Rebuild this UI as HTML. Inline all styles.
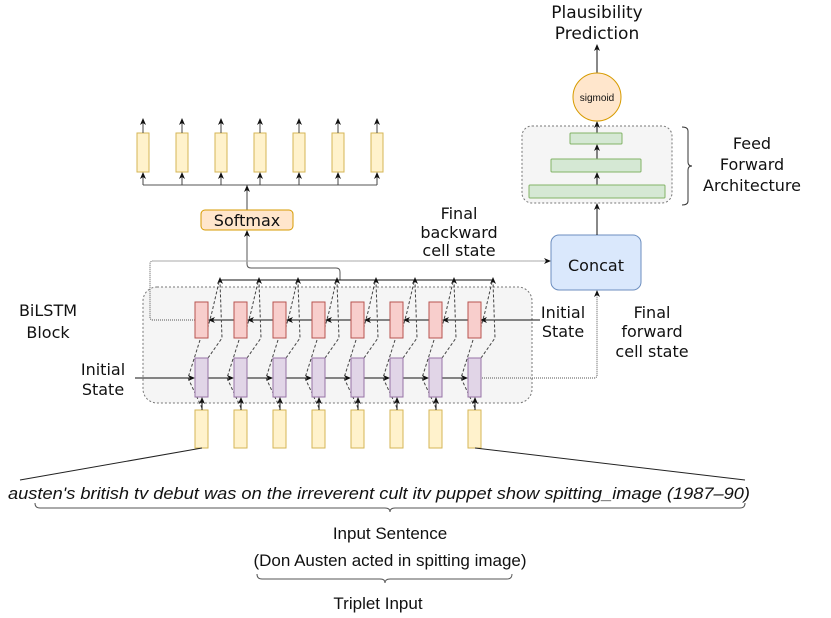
<!DOCTYPE html>
<html><head><meta charset="utf-8"><style>
html,body{margin:0;padding:0;background:#fff;}
svg{display:block;}
.t{font-family:"DejaVu Sans",sans-serif;font-size:16px;fill:#111;}
.h{font-family:"Liberation Sans",sans-serif;font-size:17px;fill:#111;}
</style></head><body>
<svg width="831" height="618" viewBox="0 0 831 618" xmlns="http://www.w3.org/2000/svg">
<defs>
<marker id="a" markerWidth="8" markerHeight="8" refX="6" refY="3" orient="auto" markerUnits="userSpaceOnUse"><path d="M0,0 L7,3 L0,6 L2,3 z" fill="#111"/></marker>
</defs>
<rect x="143" y="287" width="389" height="116" rx="14" fill="#f5f5f5" stroke="#777" stroke-dasharray="2,2"/>
<rect x="522" y="126" width="150" height="77" rx="10" fill="#f5f5f5" stroke="#777" stroke-dasharray="2,2"/>

<g stroke="#555" fill="none"><path d="M143,185 H377 M247,185 V210"/></g>
<g fill="#fff2cc" stroke="#d6b656">
<rect x="137" y="133" width="12" height="39"/><rect x="176" y="133" width="12" height="39"/><rect x="215" y="133" width="12" height="39"/><rect x="254" y="133" width="12" height="39"/><rect x="293" y="133" width="12" height="39"/><rect x="332" y="133" width="12" height="39"/><rect x="371" y="133" width="12" height="39"/>
</g>
<g stroke="#444" marker-end="url(#a)">
<line x1="143" y1="185" x2="143" y2="173"/><line x1="182" y1="185" x2="182" y2="173"/><line x1="221" y1="185" x2="221" y2="173"/><line x1="260" y1="185" x2="260" y2="173"/><line x1="299" y1="185" x2="299" y2="173"/><line x1="338" y1="185" x2="338" y2="173"/><line x1="377" y1="185" x2="377" y2="173"/>
<line x1="143" y1="133" x2="143" y2="119"/><line x1="182" y1="133" x2="182" y2="119"/><line x1="221" y1="133" x2="221" y2="119"/><line x1="260" y1="133" x2="260" y2="119"/><line x1="299" y1="133" x2="299" y2="119"/><line x1="338" y1="133" x2="338" y2="119"/><line x1="377" y1="133" x2="377" y2="119"/>
<line x1="247" y1="210" x2="247" y2="186"/>
</g>
<rect x="201" y="210" width="92" height="20" rx="4" fill="#ffe6cc" stroke="#d79b00"/>
<text x="247" y="226" text-anchor="middle" class="t" style="font-size:16px">Softmax</text>
<path d="M340,280 V272 Q340,268 336,268 H251 Q247,268 247,264 V231" fill="none" stroke="#555" marker-end="url(#a)"/>

<path d="M220,280 H493" stroke="#111" fill="none"/>
<g stroke="#111" marker-end="url(#a)">
<line x1="220" y1="281" x2="220" y2="278"/><line x1="259" y1="281" x2="259" y2="278"/><line x1="298" y1="281" x2="298" y2="278"/><line x1="337" y1="281" x2="337" y2="278"/><line x1="376" y1="281" x2="376" y2="278"/><line x1="415" y1="281" x2="415" y2="278"/><line x1="454" y1="281" x2="454" y2="278"/><line x1="493" y1="281" x2="493" y2="278"/>
</g>

<path d="M195,320 H153 Q150,320 150,317 V264 Q150,261 153,261 H550" fill="none" stroke="#555" stroke-dasharray="1,1" marker-end="url(#a)"/>
<path d="M480,378 H594 Q597,378 597,375 V291" fill="none" stroke="#555" stroke-dasharray="1,1" marker-end="url(#a)"/>

<g stroke="#111" fill="none">
<line x1="540" y1="320" x2="481" y2="320" marker-end="url(#a)"/>
<line x1="135" y1="378" x2="194" y2="378" marker-end="url(#a)"/>
</g>
<g stroke="#111" marker-end="url(#a)">
<line x1="234" y1="320" x2="209" y2="320"/><line x1="273" y1="320" x2="248" y2="320"/><line x1="312" y1="320" x2="287" y2="320"/><line x1="351" y1="320" x2="326" y2="320"/><line x1="390" y1="320" x2="365" y2="320"/><line x1="429" y1="320" x2="404" y2="320"/><line x1="468" y1="320" x2="443" y2="320"/>
<line x1="208" y1="378" x2="233" y2="378"/><line x1="247" y1="378" x2="272" y2="378"/><line x1="286" y1="378" x2="311" y2="378"/><line x1="325" y1="378" x2="350" y2="378"/><line x1="364" y1="378" x2="389" y2="378"/><line x1="403" y1="378" x2="428" y2="378"/><line x1="442" y1="378" x2="467" y2="378"/>
</g>
<g fill="none" stroke="#444" stroke-dasharray="3,2">
<path d="M202,408 L188,378 L200,340"/><path d="M208,358 L222,338 L220,282"/><path d="M205,338 L212,312 L219,282"/>
<path d="M241,408 L227,378 L239,340"/><path d="M247,358 L261,338 L259,282"/><path d="M244,338 L251,312 L258,282"/>
<path d="M280,408 L266,378 L278,340"/><path d="M286,358 L300,338 L298,282"/><path d="M283,338 L290,312 L297,282"/>
<path d="M319,408 L305,378 L317,340"/><path d="M325,358 L339,338 L337,282"/><path d="M322,338 L329,312 L336,282"/>
<path d="M358,408 L344,378 L356,340"/><path d="M364,358 L378,338 L376,282"/><path d="M361,338 L368,312 L375,282"/>
<path d="M397,408 L383,378 L395,340"/><path d="M403,358 L417,338 L415,282"/><path d="M400,338 L407,312 L414,282"/>
<path d="M436,408 L422,378 L434,340"/><path d="M442,358 L456,338 L454,282"/><path d="M439,338 L446,312 L453,282"/>
<path d="M475,408 L461,378 L473,340"/><path d="M481,358 L495,338 L493,282"/><path d="M478,338 L485,312 L492,282"/>
</g>
<g fill="#f8cecc" stroke="#b85450">
<rect x="195" y="302" width="13" height="36"/><rect x="234" y="302" width="13" height="36"/><rect x="273" y="302" width="13" height="36"/><rect x="312" y="302" width="13" height="36"/><rect x="351" y="302" width="13" height="36"/><rect x="390" y="302" width="13" height="36"/><rect x="429" y="302" width="13" height="36"/><rect x="468" y="302" width="13" height="36"/>
</g>
<g fill="#e1d5e7" stroke="#9673a6">
<rect x="195" y="358" width="13" height="39"/><rect x="234" y="358" width="13" height="39"/><rect x="273" y="358" width="13" height="39"/><rect x="312" y="358" width="13" height="39"/><rect x="351" y="358" width="13" height="39"/><rect x="390" y="358" width="13" height="39"/><rect x="429" y="358" width="13" height="39"/><rect x="468" y="358" width="13" height="39"/>
</g>
<g fill="#fff2cc" stroke="#d6b656">
<rect x="195" y="410" width="13" height="38"/><rect x="234" y="410" width="13" height="38"/><rect x="273" y="410" width="13" height="38"/><rect x="312" y="410" width="13" height="38"/><rect x="351" y="410" width="13" height="38"/><rect x="390" y="410" width="13" height="38"/><rect x="429" y="410" width="13" height="38"/><rect x="468" y="410" width="13" height="38"/>
</g>
<g stroke="#111" marker-end="url(#a)">
<line x1="202" y1="410" x2="202" y2="398"/><line x1="241" y1="410" x2="241" y2="398"/><line x1="280" y1="410" x2="280" y2="398"/><line x1="319" y1="410" x2="319" y2="398"/><line x1="358" y1="410" x2="358" y2="398"/><line x1="397" y1="410" x2="397" y2="398"/><line x1="436" y1="410" x2="436" y2="398"/><line x1="475" y1="410" x2="475" y2="398"/>
</g>

<rect x="551" y="235" width="90" height="55" rx="8" fill="#dae8fc" stroke="#6c8ebf"/>
<text x="596" y="271" text-anchor="middle" class="t" style="font-size:16px">Concat</text>
<g stroke="#111" marker-end="url(#a)">
<line x1="597" y1="235" x2="597" y2="204"/>
<line x1="597" y1="185" x2="597" y2="173"/>
<line x1="597" y1="159" x2="597" y2="145"/>
<line x1="597" y1="133" x2="597" y2="122"/>
<line x1="597" y1="73" x2="597" y2="45"/>
</g>
<g fill="#d5e8d4" stroke="#82b366">
<rect x="570" y="133" width="52" height="11" rx="1"/>
<rect x="551" y="159" width="90" height="13" rx="1"/>
<rect x="529" y="185" width="136" height="13" rx="1"/>
</g>
<circle cx="597" cy="97" r="24" fill="#ffe6cc" stroke="#d79b00"/>
<text x="597" y="101" text-anchor="middle" class="h" style="font-size:10px">sigmoid</text>
<path d="M682,127 Q688,127 688,131 V162 Q688,166 692,166 Q688,166 688,170 V201 Q688,205 682,205" fill="none" stroke="#333"/>

<g stroke="#222" fill="none">
<line x1="20" y1="480" x2="202" y2="448"/>
<line x1="475" y1="448" x2="745" y2="480"/>
<path d="M35,503 Q35,508 40,508 H385 Q390,508 390,512 Q390,508 395,508 H740 Q745,508 745,503" stroke="#555"/>
<path d="M257,574 Q257,579 262,579 H380 Q385,579 385,583 Q385,579 390,579 H507 Q512,579 512,574" stroke="#555"/>
</g>

<g class="t" text-anchor="middle">
<text x="597" y="18" style="font-size:17px">Plausibility</text><text x="597" y="39" style="font-size:17px">Prediction</text>
<text x="752" y="149">Feed</text><text x="752" y="170">Forward</text><text x="752" y="191">Architecture</text>
<text x="459" y="219">Final</text><text x="459" y="238">backward</text><text x="459" y="256">cell state</text>
<text x="652" y="318">Final</text><text x="652" y="337">forward</text><text x="652" y="357">cell state</text>
<text x="563" y="318">Initial</text><text x="563" y="337">State</text>
<text x="48" y="316">BiLSTM</text><text x="48" y="338">Block</text>
<text x="103" y="375">Initial</text><text x="103" y="395">State</text>
</g>
<text x="8" y="499" class="h" font-style="italic" textLength="742" lengthAdjust="spacingAndGlyphs">austen's british tv debut was on the irreverent cult itv puppet show spitting_image (1987–90)</text>
<g class="h" text-anchor="middle">
<text x="390" y="539">Input Sentence</text>
<text x="390" y="566">(Don Austen acted in spitting image)</text>
<text x="378" y="609">Triplet Input</text>
</g>
</svg>
</body></html>
